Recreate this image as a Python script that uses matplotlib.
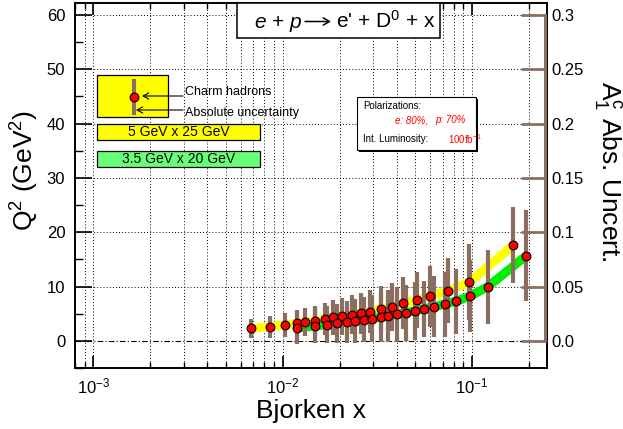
import matplotlib
matplotlib.use("Agg")
import matplotlib.pyplot as plt
from matplotlib.patches import Rectangle, FancyArrowPatch
from matplotlib.lines import Line2D
from matplotlib.ticker import LogLocator, FixedLocator, FixedFormatter, NullFormatter

plt.rcParams['font.family'] = ['Liberation Sans', 'DejaVu Sans']
plt.rcParams['mathtext.fontset'] = 'custom'
plt.rcParams['mathtext.rm'] = 'Liberation Sans'
plt.rcParams['mathtext.it'] = 'Liberation Sans:italic'
plt.rcParams['mathtext.bf'] = 'Liberation Sans:bold'
plt.rcParams['mathtext.default'] = 'regular'

# ---- data -------------------------------------------------------------
# 5 GeV x 25 GeV beams
x_5x25 = [0.0068, 0.0086, 0.0103, 0.0119, 0.0132, 0.0149, 0.0167, 0.0185,
          0.0207, 0.0231, 0.0260, 0.0291, 0.0329, 0.0379, 0.0434, 0.0514,
          0.0599, 0.0745, 0.0970, 0.165]
q2_5x25 = [2.3, 2.6, 2.95, 3.2, 3.4, 3.7, 4.0, 4.3, 4.5, 4.8, 5.1, 5.4,
           5.9, 6.3, 6.9, 7.55, 8.2, 9.2, 10.8, 17.6]
unc_5x25 = [0.009, 0.010, 0.011, 0.012, 0.013, 0.014, 0.015, 0.016, 0.017,
            0.018, 0.019, 0.020, 0.021, 0.022, 0.024, 0.026, 0.028, 0.030,
            0.035, 0.035]

# 3.5 GeV x 20 GeV beams
x_3p5x20 = [0.0119, 0.0148, 0.0171, 0.0194, 0.0218, 0.0241, 0.0269, 0.0297,
            0.0329, 0.0362, 0.0400, 0.0446, 0.0497, 0.0557, 0.0629, 0.0718,
            0.0828, 0.0973, 0.121, 0.193]
q2_3p5x20 = [2.35, 2.75, 2.95, 3.25, 3.45, 3.65, 3.9, 4.1, 4.35, 4.6, 4.85,
             5.15, 5.5, 5.9, 6.25, 6.75, 7.3, 8.2, 9.95, 15.65]
unc_3p5x20 = [0.015, 0.016, 0.017, 0.018, 0.019, 0.020, 0.021, 0.022, 0.023,
              0.024, 0.025, 0.026, 0.027, 0.026, 0.028, 0.030, 0.030, 0.033,
              0.034, 0.042]

q2_ticks = [0, 10, 20, 30, 40, 50, 60]
a1_ticks = [0.0, 0.05, 0.1, 0.15, 0.2, 0.25, 0.3]
a1_labels = ["0.0", "0.05", "0.1", "0.15", "0.2", "0.25", "0.3"]

# ---- style --------------------------------------------------------------
W, H = 623, 429
BROWN = '#8c6e60'
YELLOW = '#ffff00'
GREEN = '#00ee00'
LEG_GREEN = '#66ff77'
PT = 0.72  # points per pixel at 100 dpi
MS = 6.3
BAR_LW = 3.0


def fx(px):
    return px / W


def fy(py):
    return 1 - py / H


fig = plt.figure(figsize=(W / 100, H / 100), dpi=100)
ax = fig.add_axes([fx(75), fy(368), (547 - 75) / W, (368 - 3) / H])

ax.set_xscale('log')
ax.set_xlim(8.0e-4, 0.249)
ylim = (-5.0, 62.2)
ax.set_ylim(*ylim)

# A1 uncertainty scale: 0.3 on the right axis spans the same height as 60 GeV^2
a1_scale = q2_ticks[-1] / a1_ticks[-1]

# grid
for v in q2_ticks[1:]:
    ax.axhline(v, color='k', lw=0.7, ls=(0, (1, 2.2)), zorder=0.5)
ax.axhline(0, color='k', lw=0.8, ls=(0, (5, 2, 1, 2)), zorder=0.5)
ax.xaxis.set_major_locator(LogLocator(base=10))
ax.xaxis.set_minor_locator(LogLocator(base=10, subs=range(2, 10)))
ax.xaxis.set_minor_formatter(NullFormatter())
ax.grid(axis='x', which='both', color='k', lw=0.7, ls=(0, (1, 2.2)), zorder=0.5)
ax.set_axisbelow(True)

# thick bands through each beam configuration
ax.plot(x_5x25, q2_5x25, color=YELLOW, lw=6.5, solid_capstyle='butt', zorder=2)
ax.plot(x_3p5x20, q2_3p5x20, color=GREEN, lw=6.5, solid_capstyle='butt', zorder=2)

# absolute uncertainties as vertical bars around each point
for xs, qs, us in ((x_5x25, q2_5x25, unc_5x25), (x_3p5x20, q2_3p5x20, unc_3p5x20)):
    lo = [q - u * a1_scale for q, u in zip(qs, us)]
    hi = [q + u * a1_scale for q, u in zip(qs, us)]
    ax.vlines(xs, lo, hi, color=BROWN, lw=BAR_LW, zorder=3)

for xs, qs in ((x_5x25, q2_5x25), (x_3p5x20, q2_3p5x20)):
    ax.plot(xs, qs, 'o', ms=MS, mfc='red', mec='k', mew=0.8, zorder=4)

# axes, ticks
for s in ax.spines.values():
    s.set_linewidth(1.4)
ax.yaxis.set_major_locator(FixedLocator(q2_ticks))
ax.yaxis.set_minor_locator(FixedLocator([v + 5 for v in q2_ticks[:-1]] + [-5]))
ax.tick_params(axis='x', which='major', direction='in', top=True, length=12 * PT,
               width=1.2, labelsize=12, pad=6)
ax.tick_params(axis='x', which='minor', direction='in', top=True, length=6 * PT, width=1.0)
ax.tick_params(axis='y', which='major', direction='in', right=True, length=17 * PT,
               width=1.2, labelsize=12, pad=7)
ax.tick_params(axis='y', which='minor', direction='in', right=True, length=8 * PT, width=1.0)

ax.set_xlabel('Bjorken x', fontsize=19, labelpad=2)
ax.set_ylabel(r'Q$^2$ (GeV$^2$)', fontsize=19)
ax.yaxis.set_label_coords(-0.073, 0.54)

# right-hand A1 uncertainty axis
ax2 = ax.twinx()
ax2.set_ylim(ylim[0] / a1_scale, ylim[1] / a1_scale)
for side in ('left', 'top', 'bottom'):
    ax2.spines[side].set_visible(False)
ax2.spines['right'].set_bounds(a1_ticks[0], a1_ticks[-1])
ax2.spines['right'].set_color(BROWN)
ax2.spines['right'].set_linewidth(2.2)
ax2.spines['right'].set_position(('outward', -1.5))
ax2.yaxis.set_major_locator(FixedLocator(a1_ticks))
ax2.yaxis.set_major_formatter(FixedFormatter(a1_labels))
ax2.tick_params(axis='y', direction='in', length=24 * PT, width=2.0, color=BROWN,
                labelcolor='k', labelsize=12, pad=5)

fig.text(fx(608), fy(171), r'A$_1^c$ Abs. Uncert.', rotation=-90, fontsize=19,
         ha='center', va='center')

# process box at the top
fig.patches.append(Rectangle((fx(237), fy(38)), (440 - 237) / W, (38 - 3) / H,
                             transform=fig.transFigure, fc='white', ec='k', lw=1.1,
                             zorder=5))
fig.text(fx(302), fy(28), r"$\mathit{e}$ + $\mathit{p}$", fontsize=15,
         ha='right', va='baseline', zorder=6)
fig.patches.append(FancyArrowPatch((fx(305), fy(21.5)), (fx(331), fy(21.5)),
                                   transform=fig.transFigure,
                                   arrowstyle='->,head_length=4.5,head_width=2.6',
                                   lw=1.1, color='k', shrinkA=0, shrinkB=0, zorder=6))
fig.text(fx(336), fy(28), "e' + D$^0$ + x", fontsize=15,
         ha='left', va='baseline', zorder=6)

# key for markers and bands
fig.patches.append(Rectangle((fx(97), fy(117)), (168 - 97) / W, (117 - 75) / H,
                             transform=fig.transFigure, fc=YELLOW, ec='k', lw=0.9, zorder=5))
fig.lines.append(Line2D([fx(134), fx(134)], [fy(81), fy(113)], transform=fig.transFigure,
                        color=BROWN, lw=BAR_LW, zorder=6))
fig.lines.append(Line2D([fx(134)], [fy(97)], transform=fig.transFigure, marker='o',
                        ms=MS, mfc='red', mec='k', mew=0.8, zorder=7))
for tip, tail in (((142, 96), (183, 96)), ((136, 110), (183, 110))):
    arr = FancyArrowPatch((fx(tail[0]), fy(tail[1])), (fx(tip[0]), fy(tip[1])),
                          transform=fig.transFigure, arrowstyle='->,head_length=4,head_width=2.2',
                          lw=0.8, color='k', shrinkA=0, shrinkB=0, zorder=8)
    fig.patches.append(arr)
fig.text(fx(185), fy(92), 'Charm hadrons', fontsize=9, ha='left', va='center')
fig.text(fx(185), fy(113), 'Absolute uncertainty', fontsize=9, ha='left', va='center')

for top, color, label in ((124, YELLOW, '5 GeV x 25 GeV'), (151, LEG_GREEN, '3.5 GeV x 20 GeV')):
    fig.patches.append(Rectangle((fx(97), fy(top + 16)), (260 - 97) / W, 16 / H,
                                 transform=fig.transFigure, fc=color, ec='k', lw=0.9,
                                 zorder=5))
    fig.text(fx(178.5), fy(top + 8), label, fontsize=10, ha='center', va='center', zorder=6)

# run conditions box
fig.patches.append(Rectangle((fx(359), fy(152)), (476 - 357) / W, (150 - 97) / H,
                             transform=fig.transFigure, fc='k', ec='k', lw=0, zorder=4.9))
fig.patches.append(Rectangle((fx(357), fy(150)), (476 - 357) / W, (150 - 97) / H,
                             transform=fig.transFigure, fc='white', ec='k', lw=0.8, zorder=5))
fig.text(fx(363), fy(106), 'Polarizations:', fontsize=7, ha='left', va='center', zorder=6)
fig.text(fx(395), fy(120), 'e: 80%,', fontsize=7, color='red', style='italic',
         ha='left', va='center', zorder=6)
fig.text(fx(435), fy(120), 'p: 70%', fontsize=7, color='red', style='italic',
         ha='left', va='center', zorder=6)
fig.text(fx(363), fy(139), 'Int. Luminosity:', fontsize=7, ha='left', va='center', zorder=6)
fig.text(fx(448), fy(139), '100fb$^{-1}$', fontsize=7, color='red', ha='left',
         va='center', zorder=6)

fig.savefig('out.png', dpi=100)
